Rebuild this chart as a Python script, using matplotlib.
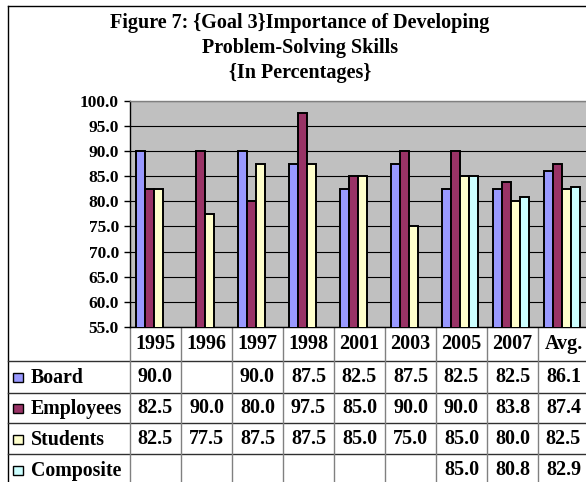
import matplotlib.pyplot as plt
import numpy as np
from matplotlib.patches import Rectangle
from matplotlib.transforms import blended_transform_factory

plt.rcParams['font.family'] = ['Liberation Serif', 'DejaVu Serif']
plt.rcParams['font.weight'] = 'bold'

YEARS = ["1995", "1996", "1997", "1998", "2001", "2003", "2005", "2007", "Avg."]
SERIES = ["Board", "Employees", "Students", "Composite"]
board = [90.0, None, 90.0, 87.5, 82.5, 87.5, 82.5, 82.5, 86.1]
employees = [82.5, 90.0, 80.0, 97.5, 85.0, 90.0, 90.0, 83.8, 87.4]
students = [82.5, 77.5, 87.5, 87.5, 85.0, 75.0, 85.0, 80.0, 82.5]
composite = [None, None, None, None, None, None, 85.0, 80.8, 82.9]
COLORS = ["#9999FF", "#993366", "#FFFFCC", "#CCFFFF"]
TITLE = ["Figure 7: {Goal 3}Importance of Developing",
         "Problem-Solving Skills",
         "{In Percentages}"]

W, H = 586, 482
fig = plt.figure(figsize=(W / 100, H / 100), dpi=100)

# pixel overlay for frame + table
pax = fig.add_axes([0, 0, 1, 1])
pax.set_xlim(0, W)
pax.set_ylim(H, 0)
pax.axis('off')

# plot area (pixels: left 130, right 589, top 100.7, bottom 327)
pl, pr, pt, pb = 130, 589, 100.7, 327
ax = fig.add_axes([pl / W, (H - pb) / H, (pr - pl) / W, (pb - pt) / H])
ax.set_facecolor("#C0C0C0")

x = np.arange(len(YEARS))
w = 0.181
all_vals = [board, employees, students, composite]
for k, (vals, col) in enumerate(zip(all_vals, COLORS)):
    xs = [x[i] + (k - 1.5) * w - 0.03 for i, v in enumerate(vals) if v is not None]
    hs = [v for v in vals if v is not None]
    ax.bar(xs, hs, width=w, color=col, edgecolor="black", linewidth=1.4, zorder=3)

ax.set_xlim(-0.5, len(YEARS) - 0.5)
ax.set_ylim(55, 100)
ax.set_yticks(np.arange(55, 100.1, 5))
ax.set_yticklabels(["%.1f" % t for t in np.arange(55, 100.1, 5)], fontsize=12.5, fontweight='bold')
ax.tick_params(axis='y', length=4, width=1, pad=4, direction='out')
ax.set_xticks([])
ax.yaxis.grid(True, color="black", linewidth=0.8, zorder=1)
ax.set_axisbelow(True)
ax.spines['left'].set_color("black")
ax.spines['bottom'].set_color("black")
ax.spines['top'].set_color("#808080")
ax.spines['right'].set_color("#808080")
for s in ax.spines.values():
    s.set_linewidth(1)

# title
for line, ty in zip(TITLE, [23, 48, 73]):
    pax.text(300, ty, line, ha='center', va='center', fontsize=14.5, fontweight='bold')

# outer frame
pax.plot([8, W + 5], [6, 6], color="black", lw=1)
pax.plot([8, 8], [6, H + 5], color="black", lw=1)

# data table
bt = blended_transform_factory(ax.transData, pax.transData)
row_lines = [361, 392.7, 423.3, 454.3]
for ry in row_lines:
    pax.plot([8, W + 5], [ry, ry], color="#303030", lw=1)
for i in range(len(YEARS) + 1):
    pax.plot([i - 0.5, i - 0.5], [pb, H + 5], color="#808080", lw=1, transform=bt)

for i, yr in enumerate(YEARS):
    pax.text(i, 344, yr, ha='center', va='center', fontsize=14.5,
             fontweight='bold', transform=bt)

row_centers = [377, 408, 439, 470]
for name, vals, col, ry in zip(SERIES, all_vals, COLORS, row_centers):
    pax.add_patch(Rectangle((13, ry - 4.5), 9.5, 9.5, facecolor=col,
                            edgecolor="black", lw=1))
    pax.text(31, ry + 1, name, ha='left', va='center', fontsize=14.3, fontweight='bold')
    for i, v in enumerate(vals):
        if v is not None:
            pax.text(i, ry, "%.1f" % v, ha='center', va='center', fontsize=14.5,
                     fontweight='bold', transform=bt)

fig.savefig("out.png", dpi=100)
